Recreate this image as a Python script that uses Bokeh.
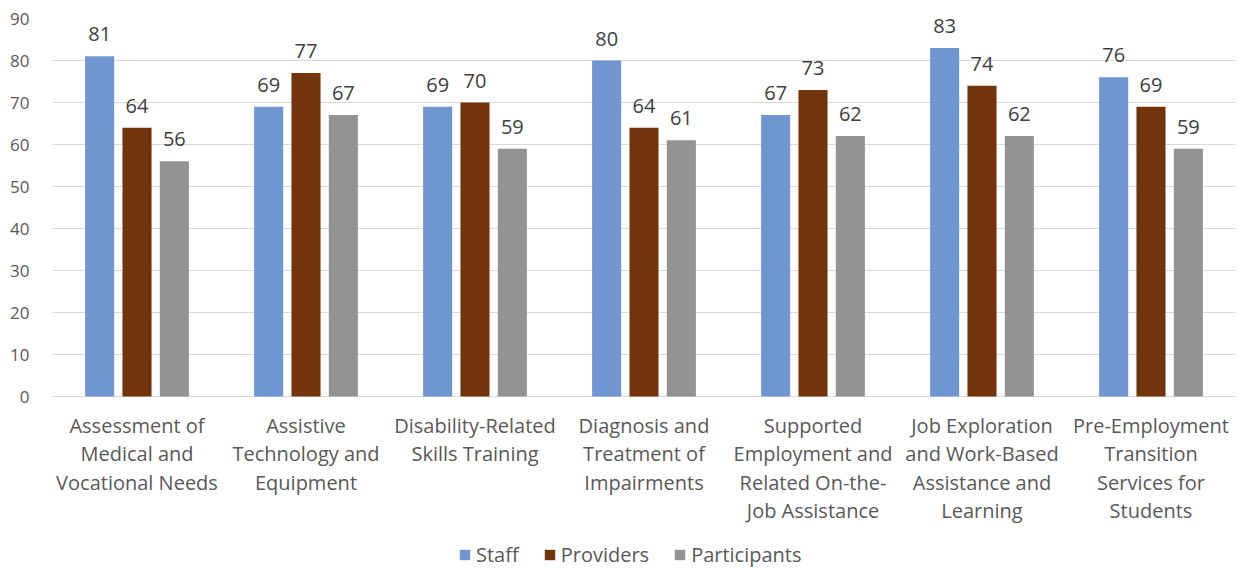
from bokeh.plotting import figure
from bokeh.models import (ColumnDataSource, FactorRange, LabelSet, Legend,
                          LegendItem, SingleIntervalTicker)
from bokeh.core.properties import value
from bokeh.transform import dodge
from bokeh.embed import file_html
from bokeh.resources import INLINE

# Service categories (multi-line labels under each group)
categories = [
    "Assessment of\nMedical and\nVocational Needs",
    "Assistive\nTechnology and\nEquipment",
    "Disability-Related\nSkills Training",
    "Diagnosis and\nTreatment of\nImpairments",
    "Supported\nEmployment and\nRelated On-the-\nJob Assistance",
    "Job Exploration\nand Work-Based\nAssistance and\nLearning",
    "Pre-Employment\nTransition\nServices for\nStudents",
]

staff = [81, 69, 69, 80, 67, 83, 76]
providers = [64, 77, 70, 64, 73, 74, 69]
participants = [56, 67, 59, 61, 62, 62, 59]

FONT = "Open Sans"
BLUE = "#7096D2"
BROWN = "#72340B"
GREY = "#939393"
TEXT = "#595959"

src = ColumnDataSource(dict(
    cat=categories,
    base=[0] * len(categories),
    staff=staff,
    providers=providers,
    participants=participants,
    staff_txt=[str(v) for v in staff],
    providers_txt=[str(v) for v in providers],
    participants_txt=[str(v) for v in participants],
))

# One row per label line, so every line is centred under its group
LINE_STEP = 28.5
FIRST_LINE = 15
line_cat, line_txt, line_off = [], [], []
for c in categories:
    for i, t in enumerate(c.split("\n")):
        line_cat.append(c)
        line_txt.append(t)
        line_off.append(-(FIRST_LINE + i * LINE_STEP))
lines_src = ColumnDataSource(dict(
    cat=line_cat, txt=line_txt, off=line_off, base=[0] * len(line_cat),
))

# The frame runs to the bottom edge so the category labels and the
# legend can live inside it, under the zero line.
Y_MAX = 90
PX_PER_UNIT = 4.2
FRAME_H = 551
y_start = Y_MAX - FRAME_H / PX_PER_UNIT

p = figure(
    x_range=FactorRange(*categories),
    y_range=(y_start, Y_MAX),
    frame_width=1183,
    frame_height=FRAME_H,
    output_backend="svg",
    toolbar_location=None,
    x_axis_location=None,
    min_border_left=52,
    min_border_right=4,
    min_border_top=18,
    min_border_bottom=0,
)

OFFSET = 0.221
BAR_W = 0.172

series = [
    ("Staff", "staff", -OFFSET, BLUE),
    ("Providers", "providers", 0.0, BROWN),
    ("Participants", "participants", OFFSET, GREY),
]

items = []
for name, col, off, color in series:
    xs = dodge("cat", off, range=p.x_range)
    r = p.vbar(x=xs, top=col, bottom="base", width=BAR_W, source=src,
               fill_color=color, line_color=None)
    items.append(LegendItem(label=name, renderers=[r]))
    p.add_layout(LabelSet(
        x=xs, y=col, text=col + "_txt", source=src,
        text_align="center", text_baseline="alphabetic", y_offset=15,
        text_font=value(FONT), text_font_size="20px", text_color="#404040",
    ))

# Category labels hanging from the zero line
p.add_layout(LabelSet(
    x="cat", y="base", text="txt", y_offset="off", source=lines_src,
    text_align="center", text_baseline="top",
    text_font=value(FONT), text_font_size="20px", text_color=TEXT,
))

# Value axis
p.yaxis.ticker = SingleIntervalTicker(interval=10)
p.yaxis.bounds = (0, Y_MAX)
p.yaxis.axis_line_color = None
p.yaxis.major_tick_line_color = None
p.yaxis.minor_tick_line_color = None
p.yaxis.major_tick_out = 0
p.yaxis.major_label_standoff = 19
p.yaxis.major_label_text_font = FONT
p.yaxis.major_label_text_font_size = "17px"
p.yaxis.major_label_text_color = TEXT

p.ygrid.grid_line_color = "#D9D9D9"
p.ygrid.grid_line_width = 1
p.ygrid.bounds = (0, Y_MAX)
p.xgrid.grid_line_color = None
p.outline_line_color = None

legend = Legend(
    items=items, orientation="horizontal", location=(406, 1),
    border_line_color=None, background_fill_alpha=0,
    label_text_font=FONT, label_text_font_size="20px",
    label_text_color=TEXT,
    glyph_width=13, glyph_height=13, label_standoff=5, spacing=24,
    padding=0, margin=0,
)
p.add_layout(legend, "center")

open("out.html", "w").write(file_html(p, INLINE))
